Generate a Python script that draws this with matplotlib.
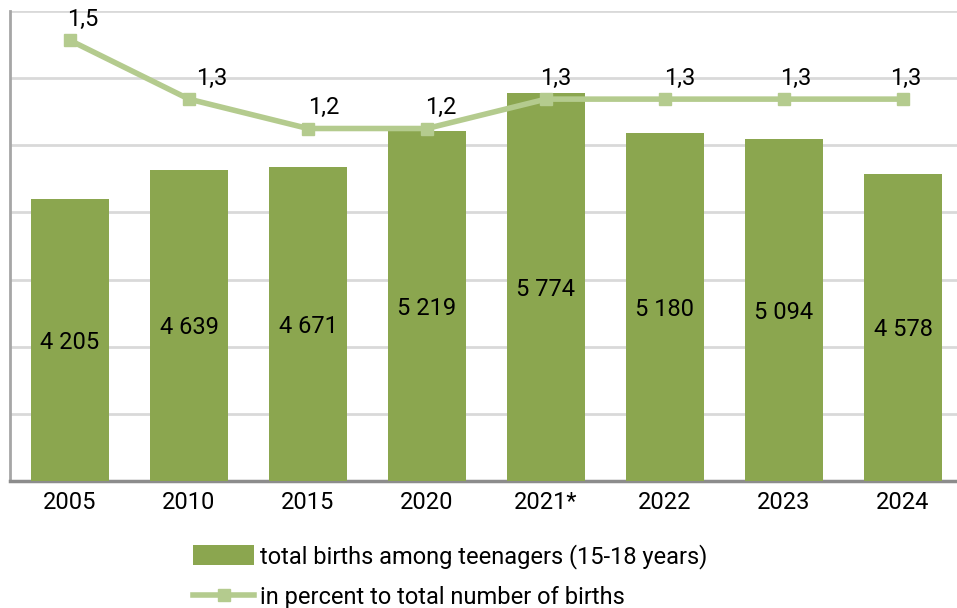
import matplotlib.pyplot as plt

plt.rcParams['font.family'] = ['Roboto', 'DejaVu Sans']

years = ['2005', '2010', '2015', '2020', '2021*', '2022', '2023', '2024']
births = [4205, 4639, 4671, 5219, 5774, 5180, 5094, 4578]
percent = [1.5, 1.3, 1.2, 1.2, 1.3, 1.3, 1.3, 1.3]

bar_color = '#8ba64f'
line_color = '#b4cb8e'
grid_color = '#d9d9d9'
fs = 17

fig = plt.figure(figsize=(9.57, 6.08), dpi=100)
ax = fig.add_axes([10 / 957, 127 / 608, 947 / 957, 470 / 608])
ax2 = ax.twinx()

x = list(range(len(years)))
bars = ax.bar(x, births, width=0.65, color=bar_color, zorder=3,
              label='total births among teenagers (15-18 years)')
ax.set_ylim(0, 7000)
ax.set_xlim(-0.504, 7.454)
ax.set_yticks(range(0, 7001, 1000))
ax.yaxis.grid(True, color=grid_color, linewidth=2, zorder=0)
ax.set_axisbelow(True)
ax.tick_params(axis='y', left=False, labelleft=False)
ax.tick_params(axis='x', length=0, labelsize=fs, pad=7.5)
ax.set_xticks(x)
ax.set_xticklabels(years)
for s in ['top', 'right']:
    ax.spines[s].set_visible(False)
ax.spines['left'].set_color('#a6a6a6')
ax.spines['left'].set_linewidth(2)
ax.spines['bottom'].set_color('#8c8c8c')
ax.spines['bottom'].set_linewidth(2.5)

# valeurs au milieu des barres
for xi, v in zip(x, births):
    ax.text(xi, v / 2, f'{v:,}'.replace(',', ' '), ha='center', va='center_baseline',
            fontsize=fs, color='black', zorder=4)

line, = ax2.plot(x, percent, color=line_color, linewidth=4, marker='s',
                 markersize=9, zorder=5,
                 label='in percent to total number of births')
ax2.set_ylim(0, 1.6)
ax2.axis('off')
dx = [13, 23, 16, 14, 10, 15, 12, 3]
for xi, v, d in zip(x, percent, dx):
    ax2.annotate(f'{v:.1f}'.replace('.', ','), (xi, v), textcoords='offset points',
                 xytext=(d * 0.72, 15), ha='center', va='center', fontsize=fs)

fig.legend(handles=[bars, line], loc='upper left', bbox_to_anchor=(193 / 957, 1 - 544 / 608),
           frameon=False, fontsize=fs, handlelength=2.6, handleheight=0.9,
           labelspacing=0.72, handletextpad=0.25, borderpad=0, borderaxespad=0)

fig.savefig('out.png', dpi=100)
